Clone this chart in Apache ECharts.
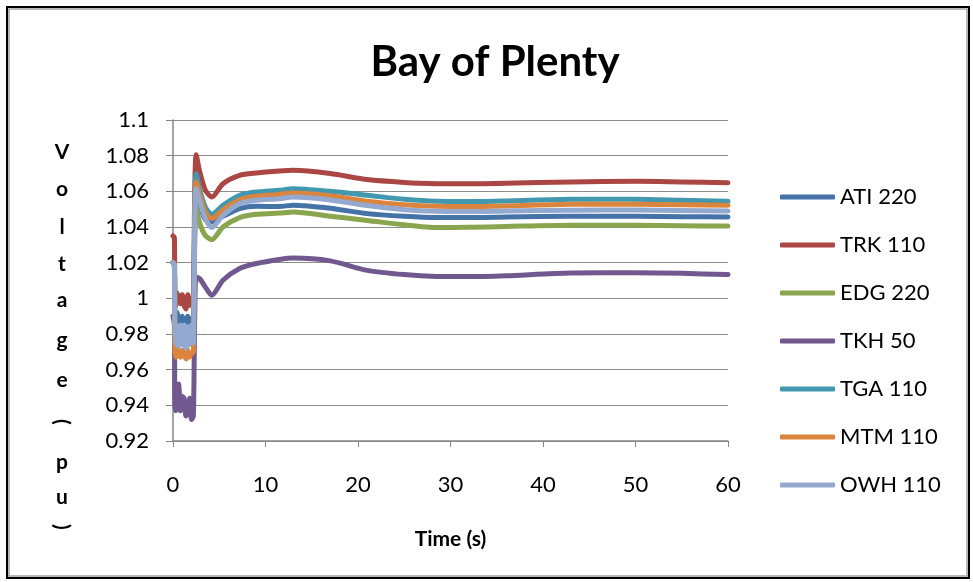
<!DOCTYPE html>
<html><head><meta charset="utf-8">
<script src="https://cdn.jsdelivr.net/npm/echarts@6/dist/echarts.min.js"></script>
<style>html,body{margin:0;padding:0;background:#fff}#c{width:973px;height:582px}</style>
</head><body><div id="c"></div>
<script>
var times = [0, 0.15, 0.2, 0.3, 0.45, 0.6, 0.8, 1.0, 1.2, 1.4, 1.6, 1.8, 2.0, 2.2, 2.35, 2.5, 2.9, 3.5, 4.2, 5.4, 7.2, 9, 11.5, 13, 17, 21, 25, 28.5, 32, 36, 43, 50, 55, 60];
var ATI220 = [1.02, 1.019, 0.991, 0.987, 0.992, 0.988, 0.986, 0.99, 0.987, 0.985, 0.99, 0.986, 0.988, 0.99, 1.04, 1.058, 1.052, 1.044, 1.043, 1.046, 1.0503, 1.0516, 1.0515, 1.0522, 1.0505, 1.0475, 1.046, 1.0453, 1.0453, 1.0456, 1.046, 1.046, 1.0458, 1.0456];
var TRK110 = [1.035, 1.034, 1.000, 0.996, 1.003, 0.999, 0.997, 1.002, 0.996, 0.994, 1.002, 0.996, 0.999, 1.001, 1.06, 1.0805, 1.0708, 1.0606, 1.0568, 1.0643, 1.069, 1.0703, 1.0714, 1.0718, 1.0700, 1.0666, 1.0650, 1.0643, 1.0642, 1.0645, 1.0653, 1.0656, 1.0653, 1.0648];
var EDG220 = [1.02, 1.019, 0.98, 0.976, 0.981, 0.977, 0.975, 0.979, 0.976, 0.974, 0.979, 0.975, 0.977, 0.978, 1.03, 1.0512, 1.0419, 1.0353, 1.0329, 1.04, 1.0453, 1.0471, 1.0478, 1.0484, 1.046, 1.0437, 1.0412, 1.0397, 1.0398, 1.0403, 1.041, 1.041, 1.0407, 1.0405];
var TKH50 = [0.99, 0.985, 0.94, 0.937, 0.951, 0.952, 0.937, 0.945, 0.944, 0.934, 0.936, 0.944, 0.932, 0.934, 0.99, 1.012, 1.011, 1.0063, 1.0017, 1.0101, 1.0167, 1.0195, 1.0218, 1.0226, 1.021, 1.0157, 1.0133, 1.0123, 1.0122, 1.0127, 1.0142, 1.0143, 1.014, 1.0133];
var TGA110 = [1.02, 1.019, 0.982, 0.978, 0.983, 0.979, 0.977, 0.981, 0.978, 0.976, 0.981, 0.977, 0.979, 0.98, 1.05, 1.0699, 1.0606, 1.0512, 1.0471, 1.0522, 1.0578, 1.0596, 1.0606, 1.0615, 1.060, 1.0578, 1.0555, 1.0544, 1.0543, 1.0546, 1.0555, 1.0556, 1.055, 1.0544];
var MTM110 = [1.02, 1.019, 0.972, 0.967, 0.973, 0.969, 0.967, 0.971, 0.968, 0.966, 0.971, 0.967, 0.969, 0.970, 1.045, 1.0652, 1.0578, 1.0484, 1.0447, 1.0497, 1.0553, 1.0572, 1.0583, 1.0591, 1.0575, 1.0545, 1.0525, 1.0516, 1.0515, 1.0518, 1.0527, 1.0528, 1.0525, 1.0522];
var OWH110 = [1.02, 1.019, 0.985, 0.974, 0.984, 0.973, 0.985, 0.974, 0.985, 0.972, 0.984, 0.974, 0.985, 0.975, 1.04, 1.0615, 1.054, 1.0447, 1.0397, 1.0465, 1.0531, 1.055, 1.0559, 1.0568, 1.0552, 1.052, 1.0497, 1.0488, 1.0487, 1.049, 1.0494, 1.0495, 1.0492, 1.049];

var seriesNames = ['ATI 220', 'TRK 110', 'EDG 220', 'TKH 50', 'TGA 110', 'MTM 110', 'OWH 110'];
var seriesData = [ATI220, TRK110, EDG220, TKH50, TGA110, MTM110, OWH110];
var colors = ['#4572A7', '#AA4643', '#89A54E', '#71588F', '#4198AF', '#DB843D', '#93A9CF'];
var yNameChars = ['V', 'o', 'l', 't', 'a', 'g', 'e', '(', 'p', 'u', ')'];
var yNameYs = [152, 189, 227, 264, 300, 340, 380, 422, 462, 497, 527];

var chart = echarts.init(document.getElementById('c'));
var font = 'Lato, "Liberation Sans", sans-serif';
var series = seriesNames.map(function (n, i) {
  return {
    name: n, type: 'line', smooth: 0.25, showSymbol: false, symbol: 'none',
    data: times.map(function (t, j) { return [t, seriesData[i][j]]; }),
    lineStyle: { width: 5, color: colors[i], cap: 'round', join: 'round' },
    itemStyle: { color: colors[i] },
    z: 2 + i, animation: false
  };
});
var graphics = [
  { type: 'rect', shape: { x: 7, y: 7, width: 962, height: 571 }, style: { fill: 'none', stroke: '#000', lineWidth: 2 } },
  { type: 'rect', shape: { x: 9, y: 9, width: 958, height: 567 }, style: { fill: 'none', stroke: '#a0a0a0', lineWidth: 1.5 } }
];
yNameChars.forEach(function (ch, i) {
  var isParen = (ch === '(' || ch === ')');
  graphics.push({ type: 'text', x: 62, y: yNameYs[i], rotation: isParen ? -Math.PI / 2 : 0,
    style: { text: ch, font: 'bold 21px ' + font, fill: '#000', align: 'center', verticalAlign: 'middle' } });
});
chart.setOption({
  animation: false,
  title: { text: 'Bay of Plenty', left: 490, top: 36, textAlign: 'center', textStyle: { fontFamily: font, fontWeight: 'bold', fontSize: 42, color: '#000' } },
  grid: { left: 173, right: 245, top: 120, bottom: 141, containLabel: false },
  legend: {
    orient: 'vertical', left: 775, top: 180, itemWidth: 55, itemHeight: 5, itemGap: 24, icon: 'roundRect',
    textStyle: { fontFamily: font, fontSize: 22, color: '#000', lineHeight: 24 }, data: seriesNames
  },
  xAxis: {
    type: 'value', min: 0, max: 60, interval: 10,
    name: 'Time (s)', nameLocation: 'middle', nameGap: 88,
    nameTextStyle: { fontFamily: font, fontSize: 21, fontWeight: 'bold', color: '#000' },
    axisLine: { show: true, lineStyle: { color: '#868686', width: 1.5 } },
    axisTick: { show: true, length: 6, lineStyle: { color: '#868686' } },
    axisLabel: { fontFamily: font, fontSize: 22, color: '#000', margin: 33 },
    splitLine: { show: false }
  },
  yAxis: {
    type: 'value', min: 0.92, max: 1.1, interval: 0.02,
    axisLine: { show: true, lineStyle: { color: '#868686', width: 1.5 } },
    axisTick: { show: true, length: 7, lineStyle: { color: '#868686' } },
    axisLabel: { fontFamily: font, fontSize: 22, color: '#000', margin: 24, formatter: function (v) { return String(parseFloat(v.toFixed(2))); } },
    splitLine: { show: true, lineStyle: { color: '#8c8c8c', width: 1.2 } }
  },
  graphic: graphics,
  series: series
});
</script></body></html>
